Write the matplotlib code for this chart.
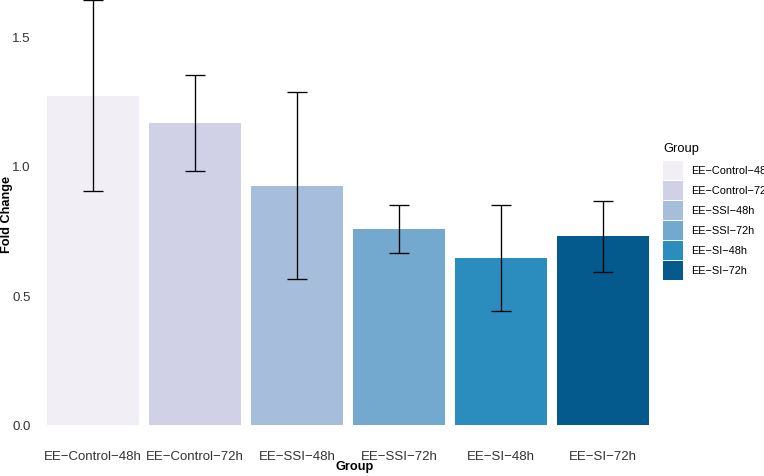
import matplotlib
matplotlib.use("Agg")
import matplotlib.pyplot as plt
from matplotlib.patches import Rectangle
import numpy as np

plt.rcParams['font.family'] = ['Liberation Sans', 'DejaVu Sans']

groups = ["EE−Control−48h", "EE−Control−72h", "EE−SSI−48h",
          "EE−SSI−72h", "EE−SI−48h", "EE−SI−72h"]
fold_change = [1.271, 1.166, 0.924, 0.757, 0.645, 0.728]
err = [0.369, 0.186, 0.361, 0.093, 0.204, 0.137]
colors = ["#f1eef6", "#d0d1e6", "#a6bddb", "#74a9cf", "#2b8cbe", "#045a8d"]

W, H = 764, 477
fig = plt.figure(figsize=(W / 100, H / 100), dpi=100)
ax = fig.add_axes([32 / W, 30 / H, 632 / W, 447 / H])

x = np.arange(len(groups))
ax.bar(x, fold_change, width=0.9, color=colors, zorder=1)
ax.errorbar(x, fold_change, yerr=err, fmt="none", ecolor="black",
            elinewidth=0.95, capsize=7.2, capthick=0.95, zorder=2)

ax.set_xlim(-0.6, len(groups) - 0.4)
ax.set_ylim(-0.082, 1.645)
ax.set_yticks([0.0, 0.5, 1.0, 1.5])
ax.set_yticklabels(["0.0", "0.5", "1.0", "1.5"])
ax.set_xticks(x)
ax.set_xticklabels(groups)
ax.tick_params(axis="both", length=0, labelsize=9.5, colors="#333333")
ax.tick_params(axis="x", pad=3)
ax.tick_params(axis="y", pad=1)
for s in ax.spines.values():
    s.set_visible(False)

ax.set_xlabel("Group", fontsize=9.2, fontweight="bold")
ax.set_ylabel("Fold Change", fontsize=9.2, fontweight="bold")
ax.xaxis.set_label_coords((355 - 32) / 632, -(467 - 447) / 447)
ax.yaxis.set_label_coords(-(32 - 7) / 632, (447 - 214) / 447)
ax.xaxis.label.set_va("center")
ax.yaxis.label.set_va("center")

# legend drawn by hand in figure pixels
fig.text(663 / W, 1 - 149 / H, "Group", fontsize=9.3, va="center",
         ha="left", color="black")
for i, (lab, c) in enumerate(zip(groups, colors)):
    top = 161.7 + 20 * i
    fig.patches.append(Rectangle((663.3 / W, 1 - (top + 19) / H), 20 / W,
                                 19 / H, transform=fig.transFigure,
                                 facecolor=c, edgecolor="none"))
    fig.text(690.7 / W, 1 - (top + 9.5) / H, lab, fontsize=7.9,
             va="center", ha="left", color="black")

fig.savefig("out.png", dpi=100)
